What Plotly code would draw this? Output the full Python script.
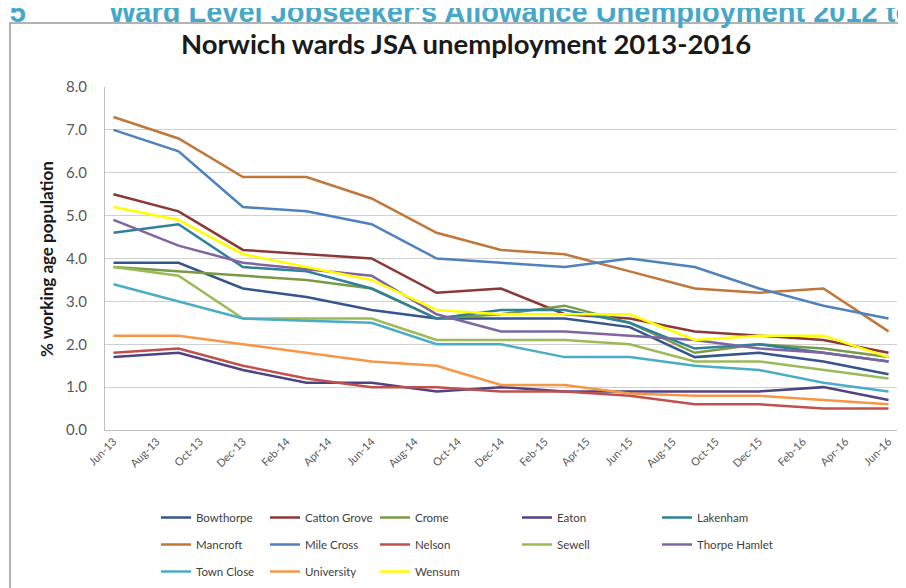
import plotly.graph_objects as go

dates = ["2013-06-01", "2013-09-01", "2013-12-01", "2014-03-01", "2014-06-01",
         "2014-09-01", "2014-12-01", "2015-03-01", "2015-06-01", "2015-09-01",
         "2015-12-01", "2016-03-01", "2016-06-01"]

bowthorpe     = [3.9, 3.9, 3.3, 3.1, 2.8, 2.6, 2.6, 2.6, 2.4, 1.7, 1.8, 1.6, 1.3]
catton_grove  = [5.5, 5.1, 4.2, 4.1, 4.0, 3.2, 3.3, 2.7, 2.6, 2.3, 2.2, 2.1, 1.8]
crome         = [3.8, 3.7, 3.6, 3.5, 3.3, 2.6, 2.7, 2.9, 2.5, 1.8, 2.0, 1.9, 1.7]
eaton         = [1.7, 1.8, 1.4, 1.1, 1.1, 0.9, 1.0, 0.9, 0.9, 0.9, 0.9, 1.0, 0.7]
lakenham      = [4.6, 4.8, 3.8, 3.7, 3.3, 2.6, 2.8, 2.8, 2.5, 1.9, 2.0, 1.8, 1.6]
mancroft      = [7.3, 6.8, 5.9, 5.9, 5.4, 4.6, 4.2, 4.1, 3.7, 3.3, 3.2, 3.3, 2.3]
mile_cross    = [7.0, 6.5, 5.2, 5.1, 4.8, 4.0, 3.9, 3.8, 4.0, 3.8, 3.3, 2.9, 2.6]
nelson        = [1.8, 1.9, 1.5, 1.2, 1.0, 1.0, 0.9, 0.9, 0.8, 0.6, 0.6, 0.5, 0.5]
sewell        = [3.8, 3.6, 2.6, 2.6, 2.6, 2.1, 2.1, 2.1, 2.0, 1.6, 1.6, 1.4, 1.2]
thorpe_hamlet = [4.9, 4.3, 3.9, 3.75, 3.6, 2.7, 2.3, 2.3, 2.2, 2.1, 1.9, 1.8, 1.6]
town_close    = [3.4, 3.0, 2.6, 2.55, 2.5, 2.0, 2.0, 1.7, 1.7, 1.5, 1.4, 1.1, 0.9]
university    = [2.2, 2.2, 2.0, 1.8, 1.6, 1.5, 1.05, 1.05, 0.85, 0.8, 0.8, 0.7, 0.6]
wensum        = [5.2, 4.9, 4.1, 3.8, 3.5, 2.8, 2.7, 2.7, 2.7, 2.1, 2.2, 2.2, 1.7]

wards = ["Bowthorpe", "Catton Grove", "Crome", "Eaton", "Lakenham", "Mancroft",
         "Mile Cross", "Nelson", "Sewell", "Thorpe Hamlet", "Town Close",
         "University", "Wensum"]
series = [bowthorpe, catton_grove, crome, eaton, lakenham, mancroft, mile_cross,
          nelson, sewell, thorpe_hamlet, town_close, university, wensum]
colors = ["#34568B", "#8C3836", "#7A9A45", "#4F4381", "#2E8199", "#C0773A",
          "#4F81BD", "#C0504D", "#9BBB59", "#8064A2", "#4BACC6", "#F79646", "#FFFF00"]

title_text = "Norwich wards JSA unemployment 2013-2016"
y_title = "% working age population"
header_left = "Figure 5"
header_right = "Ward Level Jobseeker's Allowance Unemployment 2012 to 2016"

# page offset (body margin) of the rendered html
OFF = 8
W, H = 906, 588
# plot box in screen pixels: x 105..897, y 87..430
L, R, T, B = 105 - OFF, W - (897 - OFF), 87 - OFF, H - (430 - OFF)
pw, ph = W - L - R, H - T - B

def px(x):
    return (x - OFF - L) / pw

def py(y):
    return (H - B - (y - OFF)) / ph

legend_cols = ["legend", "legend2", "legend3", "legend4", "legend5"]
legend_text_x = [196, 305, 415, 557, 697]

fig = go.Figure()
for i, (name, vals, col) in enumerate(zip(wards, series, colors)):
    fig.add_trace(go.Scatter(
        x=dates, y=vals, name=name, mode="lines",
        line=dict(color=col, width=2.5),
        legend=legend_cols[i % 5], legendgroup=name,
    ))

legend_common = dict(
    orientation="v", xanchor="left", yanchor="top", y=py(503),
    font=dict(family="Lato", size=11.5, color="#404040"),
    bgcolor="rgba(0,0,0,0)", borderwidth=0, tracegroupgap=8,
)
lay_legends = {}
for k, lg in enumerate(legend_cols):
    lay_legends[lg] = dict(legend_common, x=px(legend_text_x[k] - 40))

fig.update_layout(
    width=W, height=H,
    margin=dict(l=L, r=R, t=T, b=B, autoexpand=False),
    paper_bgcolor="white", plot_bgcolor="white",
    showlegend=True,
    **lay_legends,
    xaxis=dict(
        type="date", range=["2013-05-20", "2016-06-13"],
        tick0="2013-06-01", dtick="M2", tickformat="%b-%y", tickangle=-45,
        showgrid=False, showline=True, linecolor="#BFBFBF", linewidth=1,
        ticks="", tickfont=dict(family="Lato", size=11, color="#595959"),
    ),
    yaxis=dict(
        range=[0, 8], dtick=1, tickformat=".1f",
        showgrid=True, gridcolor="#D0D0D0", gridwidth=1.2,
        showline=True, linecolor="#BFBFBF", linewidth=1,
        zeroline=False, ticks="", ticklabelstandoff=14,
        tickfont=dict(family="Lato", size=15, color="#595959"),
    ),
    annotations=[
        dict(text=title_text, xref="paper", yref="paper", x=px(466), y=py(44),
             xanchor="center", yanchor="middle", showarrow=False,
             font=dict(family="Lato", size=27.5, color="#1A1A1A", weight="bold")),
        dict(text=y_title, xref="paper", yref="paper", x=px(46), y=py(259),
             xanchor="center", yanchor="middle", showarrow=False, textangle=-90,
             font=dict(family="Lato", size=17, color="#1A1A1A", weight="bold")),
        dict(text=header_left, xref="paper", yref="paper", x=px(28), y=py(30),
             xanchor="right", yanchor="bottom", showarrow=False,
             font=dict(family="Liberation Sans", size=29, color="#46A8C8", weight="bold")),
        dict(text=header_right, xref="paper", yref="paper", x=px(107), y=py(30),
             xanchor="left", yanchor="bottom", showarrow=False,
             font=dict(family="Liberation Sans", size=29, color="#46A8C8", weight="bold")),
    ],
    shapes=[
        dict(type="rect", xref="paper", yref="paper", x0=px(10), x1=px(940),
             y0=py(640), y1=py(23), line=dict(color="#9A9A9A", width=1.5),
             fillcolor="rgba(0,0,0,0)", layer="below"),
    ],
)

fig.write_html("out.html")
